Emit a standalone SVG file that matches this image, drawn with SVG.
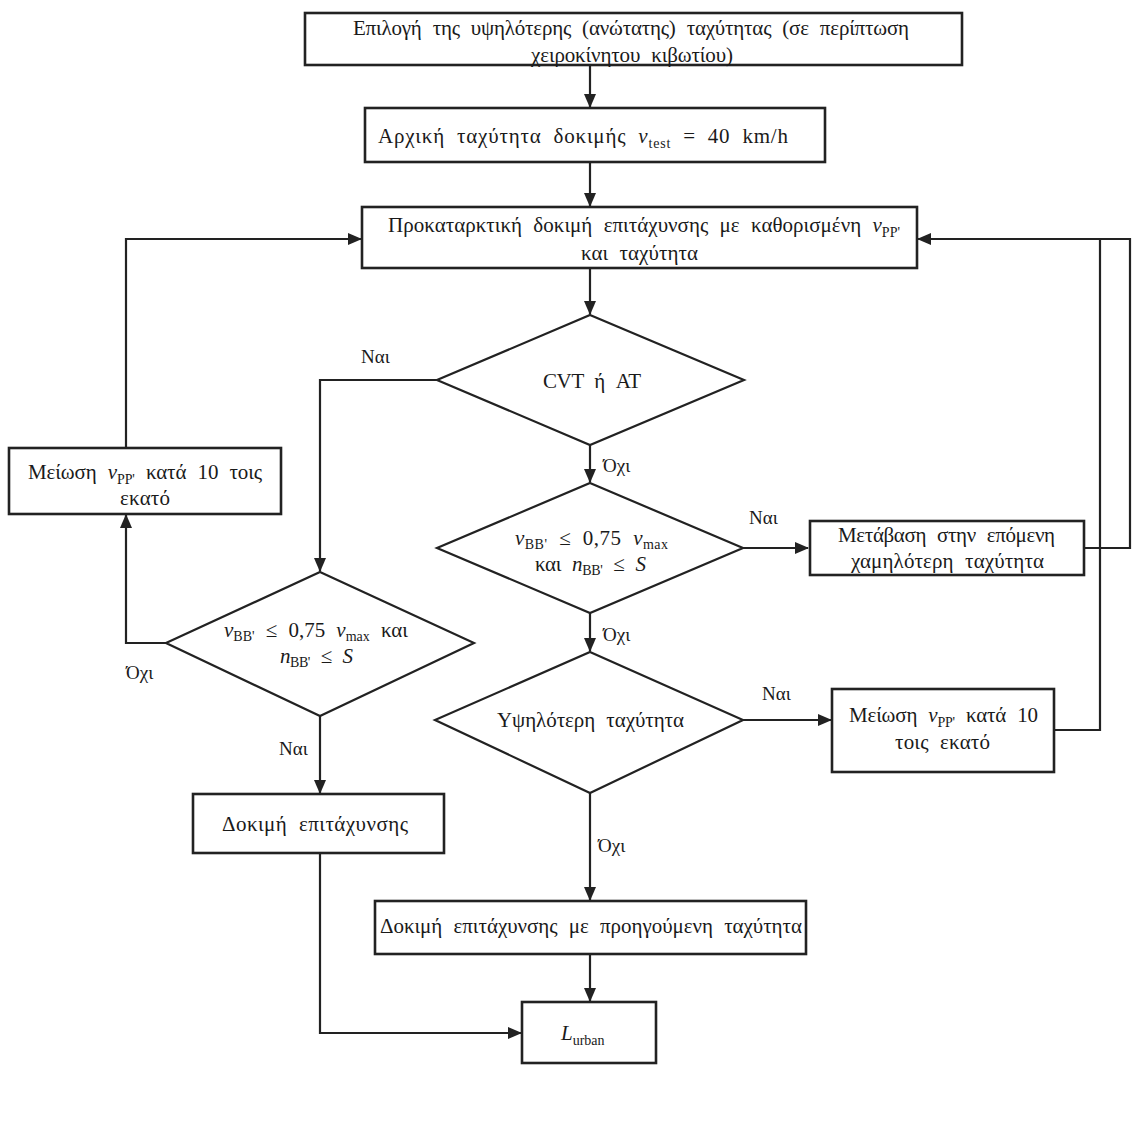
<svg xmlns="http://www.w3.org/2000/svg" width="1135" height="1135" viewBox="0 0 1135 1135">
<style>
.box{fill:#fff;stroke:#222;stroke-width:2.6}
.dia{fill:#fff;stroke:#222;stroke-width:2.2}
.con{fill:none;stroke:#222;stroke-width:2.2}
text{font-family:"Liberation Serif","DejaVu Serif",serif;font-size:21px;fill:#1a1a1a;word-spacing:6px}
.lbl{font-size:19px;word-spacing:0}
.sub{font-size:14px;word-spacing:0}
.it{font-style:italic}
</style>
<defs>
<marker id="arr" markerWidth="14" markerHeight="12" refX="13" refY="6" orient="auto" markerUnits="userSpaceOnUse">
<path d="M0,0 L14,6 L0,12 Z" fill="#222"/>
</marker>
</defs>
<rect width="1135" height="1135" fill="#fff"/>
<g id="connectors">
<path class="con" d="M590,65 V107" marker-end="url(#arr)"/>
<path class="con" d="M590,162 V206" marker-end="url(#arr)"/>
<path class="con" d="M590,268 V314" marker-end="url(#arr)"/>
<path class="con" d="M437,380 H320 V571" marker-end="url(#arr)"/>
<path class="con" d="M590,445 V482" marker-end="url(#arr)"/>
<path class="con" d="M743,548 H808" marker-end="url(#arr)"/>
<path class="con" d="M590,613 V651" marker-end="url(#arr)"/>
<path class="con" d="M743,720 H831" marker-end="url(#arr)"/>
<path class="con" d="M590,793 V900" marker-end="url(#arr)"/>
<path class="con" d="M590,954 V1001" marker-end="url(#arr)"/>
<path class="con" d="M1084,548 H1130 V239 H918" marker-end="url(#arr)"/>
<path class="con" d="M1054,730 H1100 V239"/>
<path class="con" d="M166,643 H126 V515" marker-end="url(#arr)"/>
<path class="con" d="M126,448 V239 H361" marker-end="url(#arr)"/>
<path class="con" d="M320,716 V793" marker-end="url(#arr)"/>
<path class="con" d="M320,853 V1033 H521" marker-end="url(#arr)"/>
<text class="lbl" x="361" y="363">Ναι</text>
<text class="lbl" x="603" y="472">Όχι</text>
<text class="lbl" x="749" y="524">Ναι</text>
<text class="lbl" x="603" y="641">Όχι</text>
<text class="lbl" x="762" y="700">Ναι</text>
<text class="lbl" x="126" y="679">Όχι</text>
<text class="lbl" x="279" y="755">Ναι</text>
<text class="lbl" x="598" y="852">Όχι</text>
</g>
<g id="n-select">
<rect class="box" x="305" y="13" width="657" height="52"/>
<text x="353" y="35" textLength="556" lengthAdjust="spacing">Επιλογή της υψηλότερης (ανώτατης) ταχύτητας (σε περίπτωση</text>
<text x="531" y="62" textLength="202" lengthAdjust="spacing">χειροκίνητου κιβωτίου)</text>
</g>
<g id="n-initial">
<rect class="box" x="365" y="108" width="460" height="54"/>
<text x="378" y="143" textLength="410" lengthAdjust="spacing">Αρχική ταχύτητα δοκιμής <tspan class="it">v</tspan><tspan class="sub" dy="5">test</tspan><tspan dy="-5"> = 40 km/h</tspan></text>
</g>
<g id="n-prelim">
<rect class="box" x="362" y="207" width="555" height="61"/>
<text x="388" y="232" textLength="512" lengthAdjust="spacing">Προκαταρκτική δοκιμή επιτάχυνσης με καθορισμένη <tspan class="it">v</tspan><tspan class="sub" dy="5">PP'</tspan></text>
<text x="581" y="260" textLength="117" lengthAdjust="spacing">και ταχύτητα</text>
</g>
<g id="n-cvt">
<polygon class="dia" points="590,315 744,380 590,445 437,380"/>
<text x="543" y="388" textLength="98" lengthAdjust="spacing">CVT ή AT</text>
</g>
<g id="n-cond-right">
<polygon class="dia" points="590,483 743,548 590,613 437,548"/>
<text x="515" y="545" textLength="153" lengthAdjust="spacing"><tspan class="it">v</tspan><tspan class="sub" dy="4">BB'</tspan><tspan dy="-4"> ≤ 0,75 </tspan><tspan class="it">v</tspan><tspan class="sub" dy="4">max</tspan></text>
<text x="535" y="571" textLength="111" lengthAdjust="spacing">και <tspan class="it">n</tspan><tspan class="sub" dy="4">BB'</tspan><tspan dy="-4"> ≤ </tspan><tspan class="it">S</tspan></text>
</g>
<g id="n-next-lower">
<rect class="box" x="810" y="521" width="274" height="54"/>
<text x="838" y="542" textLength="217" lengthAdjust="spacing">Μετάβαση στην επόμενη</text>
<text x="851" y="568" textLength="193" lengthAdjust="spacing">χαμηλότερη ταχύτητα</text>
</g>
<g id="n-higher">
<polygon class="dia" points="590,652 743,720 590,793 435,720"/>
<text x="497" y="727" textLength="187" lengthAdjust="spacing">Υψηλότερη ταχύτητα</text>
</g>
<g id="n-reduce-right">
<rect class="box" x="832" y="689" width="222" height="83"/>
<text x="849" y="722" textLength="189" lengthAdjust="spacing">Μείωση <tspan class="it">v</tspan><tspan class="sub" dy="5">PP'</tspan><tspan dy="-5"> κατά 10</tspan></text>
<text x="895" y="749" textLength="95" lengthAdjust="spacing">τοις εκατό</text>
</g>
<g id="n-reduce-left">
<rect class="box" x="9" y="448" width="272" height="66"/>
<text x="28" y="479" textLength="234" lengthAdjust="spacing">Μείωση <tspan class="it">v</tspan><tspan class="sub" dy="5">PP'</tspan><tspan dy="-5"> κατά 10 τοις</tspan></text>
<text x="120" y="505" textLength="50" lengthAdjust="spacing">εκατό</text>
</g>
<g id="n-cond-left">
<polygon class="dia" points="320,572 474,643 320,716 166,643"/>
<text x="224" y="637" textLength="184" lengthAdjust="spacing"><tspan class="it">v</tspan><tspan class="sub" dy="4">BB'</tspan><tspan dy="-4"> ≤ 0,75 </tspan><tspan class="it">v</tspan><tspan class="sub" dy="4">max</tspan><tspan dy="-4"> και</tspan></text>
<text x="280" y="663" textLength="73" lengthAdjust="spacing"><tspan class="it">n</tspan><tspan class="sub" dy="4">BB'</tspan><tspan dy="-4"> ≤ </tspan><tspan class="it">S</tspan></text>
</g>
<g id="n-accel">
<rect class="box" x="193" y="794" width="251" height="59"/>
<text x="222" y="831" textLength="186" lengthAdjust="spacing">Δοκιμή επιτάχυνσης</text>
</g>
<g id="n-accel-prev">
<rect class="box" x="375" y="901" width="431" height="53"/>
<text x="380" y="933" textLength="422" lengthAdjust="spacing">Δοκιμή επιτάχυνσης με προηγούμενη ταχύτητα</text>
</g>
<g id="n-urban">
<rect class="box" x="522" y="1002" width="134" height="61"/>
<text x="561" y="1040"><tspan class="it">L</tspan><tspan class="sub" dy="5">urban</tspan></text>
</g>
</svg>
